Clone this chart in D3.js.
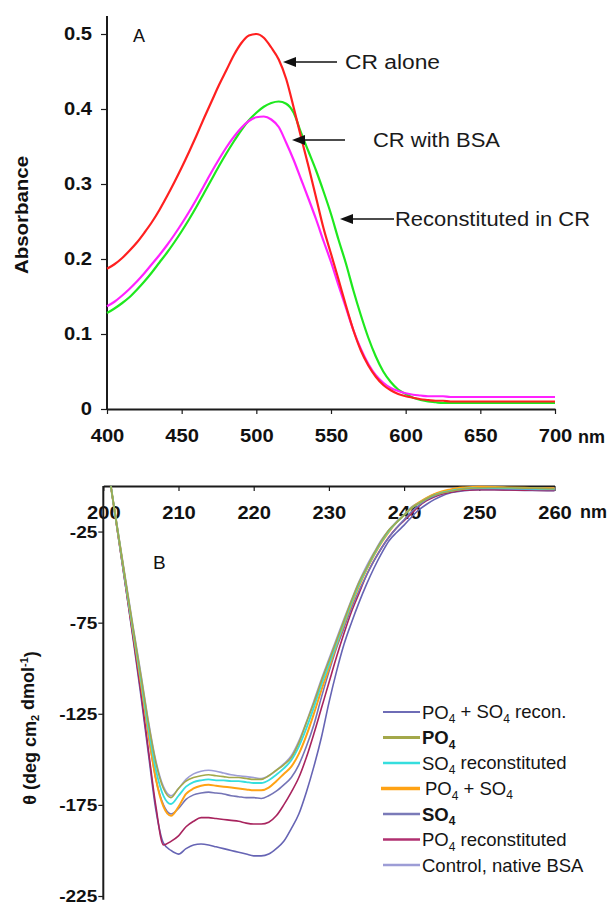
<!DOCTYPE html>
<html><head><meta charset="utf-8">
<script src="https://cdn.jsdelivr.net/npm/d3@7"></script>
<style>body{margin:0;background:#fff}svg{display:block}text{font-family:"Liberation Sans",Arial,Helvetica,sans-serif}</style>
</head><body><svg id="c" width="613" height="906"></svg>
<script>
// ---------------- Panel A data ----------------
const wavelengthA = [400,405,410,415,420,425,430,435,440,445,450,455,460,465,470,475,480,485,490,495,500,505,510,515,520,525,530,535,540,545,550,555,560,565,570,575,580,585,590,595,600,605,610,615,620,625,630,640,650,660,670,680,690,700];
const crAlone = [0.187,0.193,0.201,0.211,0.222,0.235,0.249,0.265,0.283,0.302,0.322,0.343,0.365,0.388,0.41,0.432,0.452,0.472,0.488,0.498,0.5,0.495,0.482,0.466,0.44,0.402,0.362,0.323,0.282,0.241,0.207,0.173,0.138,0.105,0.078,0.058,0.043,0.032,0.025,0.02,0.017,0.015,0.013,0.012,0.011,0.011,0.01,0.01,0.01,0.01,0.01,0.01,0.01,0.01];
const crWithBSA = [0.137,0.143,0.151,0.16,0.17,0.181,0.193,0.205,0.218,0.232,0.247,0.263,0.28,0.298,0.316,0.333,0.349,0.363,0.375,0.384,0.389,0.39,0.386,0.376,0.355,0.332,0.306,0.28,0.253,0.224,0.196,0.165,0.135,0.105,0.08,0.06,0.045,0.035,0.028,0.024,0.021,0.019,0.018,0.017,0.017,0.017,0.016,0.016,0.016,0.016,0.016,0.016,0.016,0.016];
const reconstitutedInCR = [0.128,0.134,0.141,0.149,0.159,0.17,0.182,0.195,0.208,0.222,0.237,0.253,0.27,0.288,0.306,0.324,0.341,0.357,0.372,0.385,0.395,0.403,0.408,0.41,0.407,0.395,0.368,0.343,0.318,0.29,0.26,0.226,0.194,0.158,0.125,0.095,0.07,0.05,0.036,0.026,0.02,0.015,0.012,0.01,0.009,0.008,0.008,0.008,0.008,0.008,0.008,0.008,0.008,0.008];
const ticksAX = [400,450,500,550,600,650,700];
const ticksAY = [0,0.1,0.2,0.3,0.4,0.5];
const annotationLabelsA = ["CR alone","CR with BSA","Reconstituted in CR"];

// ---------------- Panel B data ----------------
const wavelengthB = [201,202,203,204,205,206,207,208,209,210,211,212,213,214,215,216,217,218,219,220,221,222,223,224,225,226,227,228,229,230,231,232,233,234,235,236,237,238,239,240,241,242,243,244,245,246,247,248,250,252,254,256,258,260];
const po4so4Recon = [0,-28,-56,-85,-115,-147,-178,-196,-200, -202,-199,-197,-196.5,-197,-198,-199,-200,-201,-202, -203,-203,-202,-199,-195,-188,-180,-168,-154,-138, -119,-102,-87,-75,-64,-54,-45,-37,-30,-25.5, -21.5,-17,-13,-10,-7.5,-5.5,-4,-3.2,-2.6, -2,-2,-2.2,-2.4,-2.5,-2.6];
const po4 = [0,-27,-53,-79,-104,-130,-152,-166,-171, -166,-162,-160,-159,-158.5,-159,-159.5,-160,-160,-160.5, -161,-161,-159,-156,-153,-149,-141,-130,-119,-107, -96,-85,-74,-63,-53,-45,-37,-30,-24,-20, -16,-12,-9.5,-7,-5,-3.8,-3,-2.2,-1.6, -1,-0.8,-1,-1.2,-1.3,-1.5];
const so4Recon = [0,-27,-54,-80,-106,-133,-156,-170,-174.5, -170,-165,-162.5,-161.5,-161,-161.5,-161.5,-162,-162,-162.5, -163,-163,-161.5,-158.5,-155,-150.5,-143,-133,-121.5,-109, -98,-86.5,-75,-64,-54,-45.5,-37.5,-30.5,-24.5,-20, -16,-12,-9.5,-7,-5,-3.6,-2.8,-2,-1.5, -1,-1,-1.2,-1.4,-1.5,-1.6];
const po4so4 = [0,-27,-54,-81,-108,-136,-161,-176,-181, -176,-169,-166,-164.5,-164,-164.5,-165,-165.5,-166,-166.5, -167,-167,-165.5,-162,-158,-154,-147,-137,-125,-112, -100,-87.5,-76,-65,-55,-46,-38,-31,-25,-20, -16,-12,-9,-6.5,-4.5,-3,-2,-1.2,-0.8, -0.4,-0.5,-0.8,-1,-1.2,-1.3];
const so4 = [0,-27,-54,-81,-108,-137,-161,-175,-180, -177,-172,-169.5,-168.5,-168,-168.5,-169,-170,-170.5,-171, -171,-171.5,-170,-167.5,-164,-160,-153,-143,-131,-116, -102,-89,-78,-67,-57.5,-49,-41,-34,-28,-23, -18.5,-14,-10.5,-7.5,-5.5,-4,-3,-2.3,-1.8, -1.5,-1.5,-1.7,-1.8,-2,-2];
const po4Recon = [0,-28,-56,-84,-113,-145,-176,-197,-195, -192,-187,-184,-182,-182,-182.5,-183,-183.5,-184,-185, -185.5,-185.5,-184.5,-181,-175,-168,-160,-149,-136,-122, -108,-94,-81,-69,-59,-49,-41,-34,-28,-23, -19,-15,-11,-8,-6,-4.5,-3.5,-2.8,-2.3, -2,-2,-2.2,-2.3,-2.4,-2.5];
const controlBSA = [0,-26,-52,-78,-103,-129,-151,-165,-170, -166,-161,-158,-156.5,-156,-156.5,-157.5,-158.5,-159,-159.5, -160,-160.5,-159,-156,-152.5,-148,-140,-129.5,-118,-106, -95,-84,-73,-62.5,-52.5,-44,-36.5,-29.5,-24,-19.5, -15.5,-11.5,-9,-6.5,-4.5,-3.3,-2.5,-1.8,-1.2, -0.8,-0.8,-1,-1.1,-1.2,-1.3];
const legendLabelsB = ["PO_4 + SO_4 recon.","PO_4","SO_4 reconstituted","PO_4 + SO_4","SO_4","PO_4 reconstituted","Control, native BSA"];
const ticksBX = [200,210,220,230,240,250,260];
const ticksBY = [-25,-75,-125,-175,-225];

// ---------------- Drawing ----------------
const svg = d3.select("#c");
svg.append("rect").attr("width",613).attr("height",906).attr("fill","#fff");
const INK = "#1b1b1b";

function stretch(sel, f){
  sel.each(function(){
    const L = this.getComputedTextLength();
    d3.select(this).attr("textLength", L*f).attr("lengthAdjust","spacingAndGlyphs");
  });
}
function styleAxis(g, fs){
  g.select(".domain").attr("stroke",INK).attr("stroke-width",2);
  g.selectAll(".tick line").attr("stroke",INK).attr("stroke-width",1.2);
  g.selectAll(".tick text").attr("fill","#111").attr("font-size",fs).attr("font-weight","bold")
    .attr("font-family",'"Liberation Sans",Arial,sans-serif');
  stretch(g.selectAll(".tick text"), 1.12);
}

// Panel A
const xA = d3.scaleLinear().domain([400,700]).range([107,555]);
const yA = d3.scaleLinear().domain([0,0.524]).range([409,16]);
const gA = svg.append("g");

const axAY = gA.append("g").attr("transform",`translate(${xA(400)},0)`)
  .call(d3.axisLeft(yA).tickValues(ticksAY).tickFormat(d=>d===0?"0":d3.format(".1f")(d)).tickSize(6).tickSizeOuter(0).tickPadding(9));
styleAxis(axAY, 18);
const axAX = gA.append("g").attr("transform",`translate(0,${yA(0)})`)
  .call(d3.axisBottom(xA).tickValues(ticksAX).tickFormat(d=>String(d)).tickSize(5).tickSizeOuter(0).tickPadding(15));
styleAxis(axAX, 18);
axAY.select(".domain").attr("d",`M0,${yA(0.524)}V${yA(0)}`);

const seriesA = [
  {v: reconstitutedInCR, c: "#1ee81e"},
  {v: crWithBSA, c: "#ff22ff"},
  {v: crAlone, c: "#ff2020"}
];
const lineA = d3.line().x((d,i)=>xA(wavelengthA[i])).y(d=>yA(d)).curve(d3.curveMonotoneX);
gA.selectAll("path.sa").data(seriesA).join("path").attr("class","sa")
  .attr("d",d=>lineA(d.v)).attr("fill","none").attr("stroke",d=>d.c).attr("stroke-width",2.2);

gA.append("text").attr("x",133).attr("y",42).attr("font-size",18).attr("fill","#111").text("A");
const absLbl = gA.append("text").attr("transform","translate(28,215) rotate(-90)").attr("text-anchor","middle")
  .attr("font-size",19).attr("font-weight","bold").attr("fill","#111").text("Absorbance");
absLbl.attr("textLength",118).attr("lengthAdjust","spacingAndGlyphs");
gA.append("text").attr("x",578).attr("y",443).attr("font-size",18).attr("font-weight","bold").attr("fill","#111").text("nm");

// Annotations with arrows (positions are layout, not data)
const annA = [
  {t: annotationLabelsA[0], tip:283, end:337, tx:345, y:62, w:95},
  {t: annotationLabelsA[1], tip:292, end:345, tx:373, y:140, w:127},
  {t: annotationLabelsA[2], tip:340, end:394, tx:395, y:219, w:195}
];
annA.forEach(a=>{
  gA.append("line").attr("x1",a.tip+8).attr("x2",a.end).attr("y1",a.y).attr("y2",a.y).attr("stroke","#111").attr("stroke-width",1.6);
  gA.append("path").attr("d",`M${a.tip},${a.y}L${a.tip+13},${a.y-5}L${a.tip+13},${a.y+5}Z`).attr("fill","#111");
  gA.append("text").attr("x",a.tx).attr("y",a.y).attr("dy","0.36em").attr("font-size",20).attr("fill","#1a1a1a")
    .attr("textLength",a.w).attr("lengthAdjust","spacingAndGlyphs").text(a.t);
});

// Panel B
const xB = d3.scaleLinear().domain([200,260]).range([103.3,554.5]);
const yB = d3.scaleLinear().domain([0,-225]).range([486,896]);
const gB = svg.append("g");
const axBX = gB.append("g").attr("transform",`translate(0,${yB(0)})`)
  .call(d3.axisBottom(xB).tickValues(ticksBX).tickFormat(d=>String(d)).tickSize(5).tickSizeOuter(0).tickPadding(15));
styleAxis(axBX, 18);
const axBY = gB.append("g").attr("transform",`translate(${xB(200)},0)`)
  .call(d3.axisLeft(yB).tickValues(ticksBY).tickFormat(d=>String(d)).tickSize(5).tickSizeOuter(0).tickPadding(1));
styleAxis(axBY, 17);
axBY.select(".domain").attr("d",`M0,${yB(0)}V${yB(-227)}`);

const seriesB = [
  {v: controlBSA,  c: "#9d9dd6", w:1.6},
  {v: po4so4Recon, c: "#6664b4", w:1.6},
  {v: po4Recon,    c: "#a8245e", w:1.6},
  {v: so4,         c: "#7474b6", w:1.6},
  {v: po4so4,      c: "#ffa214", w:2.0},
  {v: so4Recon,    c: "#36dede", w:1.8},
  {v: po4,         c: "#a3a84a", w:1.6}
];
const lineB = d3.line().x((d,i)=>xB(wavelengthB[i])).y(d=>yB(d)).curve(d3.curveMonotoneX);
gB.selectAll("path.sb").data(seriesB).join("path").attr("class","sb")
  .attr("d",d=>lineB(d.v)).attr("fill","none").attr("stroke",d=>d.c).attr("stroke-width",d=>d.w);

gB.append("text").attr("x",153).attr("y",569).attr("font-size",19).attr("fill","#111").text("B");
gB.append("text").attr("x",580).attr("y",518).attr("font-size",18).attr("font-weight","bold").attr("fill","#111").text("nm");

const yl = gB.append("text").attr("transform","translate(36,728) rotate(-90)").attr("text-anchor","middle")
  .attr("font-size",18).attr("font-weight","bold").attr("fill","#111");
yl.append("tspan").text("θ (deg cm");
yl.append("tspan").attr("font-size",11).attr("dy","0.3em").text("2");
yl.append("tspan").attr("dy","-0.3em").text(" dmol");
yl.append("tspan").attr("font-size",11).attr("dy","-0.5em").text("-1");
yl.append("tspan").attr("dy","0.5em").text(")");

// Legend
const legendColors = ["#6e6cb6","#a3a84a","#36dede","#ffa214","#7a7ab8","#b03070","#9d9dd6"];
const legendWidths = [2,3,2.4,3.4,2.4,2.4,2.4];
const legendBold = [false,true,false,false,true,false,false];
const legY = d3.scaleLinear().domain([0,6]).range([712,865]);
legendLabelsB.forEach((lab,i)=>{
  const y = legY(i);
  gB.append("line").attr("x1",i===3?381:383).attr("x2",420).attr("y1",y).attr("y2",y)
    .attr("stroke",legendColors[i]).attr("stroke-width",legendWidths[i]);
  const t = gB.append("text").attr("x",i===3?425:422).attr("y",y).attr("dy","0.36em").attr("font-size",18.5)
    .attr("fill","#151515").attr("font-weight",legendBold[i]?"bold":"normal");
  const parts = lab.split(/(_\d)/).filter(s=>s.length);
  let shifted = false;
  parts.forEach(p=>{
    if(p[0]==="_"){
      t.append("tspan").attr("font-size",12).attr("dy","0.38em").text(p.slice(1));
      shifted = true;
    } else {
      const ts = t.append("tspan").text(p);
      if(shifted){ ts.attr("dy","-0.26em"); shifted=false; }
    }
  });
});
</script>
</body></html>
